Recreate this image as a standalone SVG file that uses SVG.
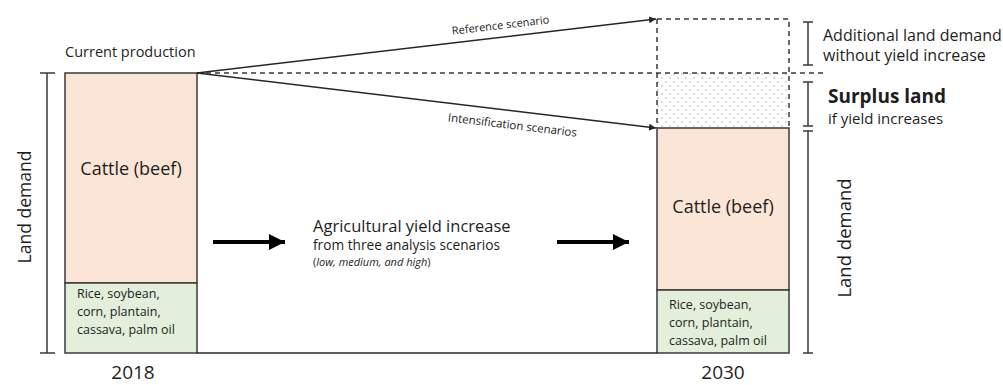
<svg xmlns="http://www.w3.org/2000/svg" width="1003" height="385" viewBox="0 0 1003 385">
<style>
text{font-family:"Open Sans","Noto Sans",sans-serif;fill:#1e1e1e}
.box{stroke:#3a3a3a;stroke-width:1.5}
.beef{fill:#fbe5d6}
.crop{fill:#e2efda}
.br{stroke:#3a3a3a;stroke-width:1.5;fill:none}
.dash{stroke:#3a3a3a;stroke-width:1.5;stroke-dasharray:5,4;fill:none}
.ln{stroke:#262626;stroke-width:1.5;fill:none}
.big{stroke:#000;stroke-width:4;fill:none}
</style>
<defs>
<marker id="ah" viewBox="0 0 10 10" refX="10" refY="5" markerWidth="7" markerHeight="7" markerUnits="userSpaceOnUse" orient="auto"><path d="M0,0L10,5L0,10z" fill="#262626"/></marker>
<marker id="bh" viewBox="0 0 10 10" refX="10" refY="5" markerWidth="4" markerHeight="4.5" orient="auto"><path d="M0,0L10,5L0,10z" fill="#000"/></marker>
<pattern id="dots" width="8" height="8" patternUnits="userSpaceOnUse"><circle cx="2" cy="2" r="0.7" fill="#999"/><circle cx="6" cy="6" r="0.7" fill="#999"/></pattern>
</defs>

<g id="left-bar">
<rect class="box beef" x="65" y="73" width="132" height="210"/>
<rect class="box crop" x="65" y="283" width="132" height="70"/>
<text x="131" y="175" text-anchor="middle" font-size="18">Cattle (beef)</text>
<text x="77" y="298" font-size="12.5">Rice, soybean,</text>
<text x="77" y="316" font-size="12.5">corn, plantain,</text>
<text x="77" y="334" font-size="12.5">cassava, palm oil</text>
<text x="65" y="57" font-size="14.5">Current production</text>
<text x="133" y="379" text-anchor="middle" font-size="19">2018</text>
</g>

<g id="left-bracket">
<path class="br" d="M47,73V353M40,73H55M40,353H55"/>
<text transform="translate(31,207) rotate(-90)" text-anchor="middle" font-size="17.5">Land demand</text>
</g>

<g id="right-bar">
<rect class="box beef" x="657" y="128" width="132" height="162"/>
<rect class="box crop" x="657" y="290" width="132" height="63"/>
<text x="723" y="213" text-anchor="middle" font-size="18">Cattle (beef)</text>
<text x="669" y="309" font-size="12.5">Rice, soybean,</text>
<text x="669" y="327" font-size="12.5">corn, plantain,</text>
<text x="669" y="345" font-size="12.5">cassava, palm oil</text>
<text x="723" y="379" text-anchor="middle" font-size="19">2030</text>
</g>

<g id="surplus">
<rect x="657" y="73" width="132" height="55" fill="url(#dots)"/>
<path class="dash" d="M657,19H789V128M657,19V128"/>
</g>

<g id="brackets-right">
<path class="br" d="M808,22V65M803,22H813M803,65H813"/>
<path class="br" d="M808,82V126M803,82H813M803,126H813"/>
<path class="br" d="M808,131V353M803,131H813M803,353H813"/>
<text x="823" y="41" font-size="16">Additional land demand</text>
<text x="823" y="61" font-size="16">without yield increase</text>
<text x="828" y="103" font-size="19" font-weight="bold">Surplus land</text>
<text x="828" y="124" font-size="15">if yield increases</text>
<text transform="translate(851,238) rotate(-90)" text-anchor="middle" font-size="18.5">Land demand</text>
</g>

<g id="middle">
<text x="313" y="232" font-size="16.5">Agricultural yield increase</text>
<text x="313" y="250" font-size="13.7">from three analysis scenarios</text>
<text x="313" y="266" font-size="11">(<tspan font-style="italic">low, medium, and high</tspan>)</text>
</g>

<g id="connectors">
<path class="ln" d="M197,353H657"/>
<path class="dash" d="M197,73H825"/>
<path class="ln" d="M197,73L656,19" marker-end="url(#ah)"/>
<path class="ln" d="M197,73L656,128" marker-end="url(#ah)"/>
<text transform="translate(501,29) rotate(-6.7)" text-anchor="middle" font-size="11">Reference scenario</text>
<text transform="translate(512,129) rotate(6.8)" text-anchor="middle" font-size="11.5">Intensification scenarios</text>
<path class="big" d="M213,242H285" marker-end="url(#bh)"/>
<path class="big" d="M557,242H629" marker-end="url(#bh)"/>
</g>
</svg>
